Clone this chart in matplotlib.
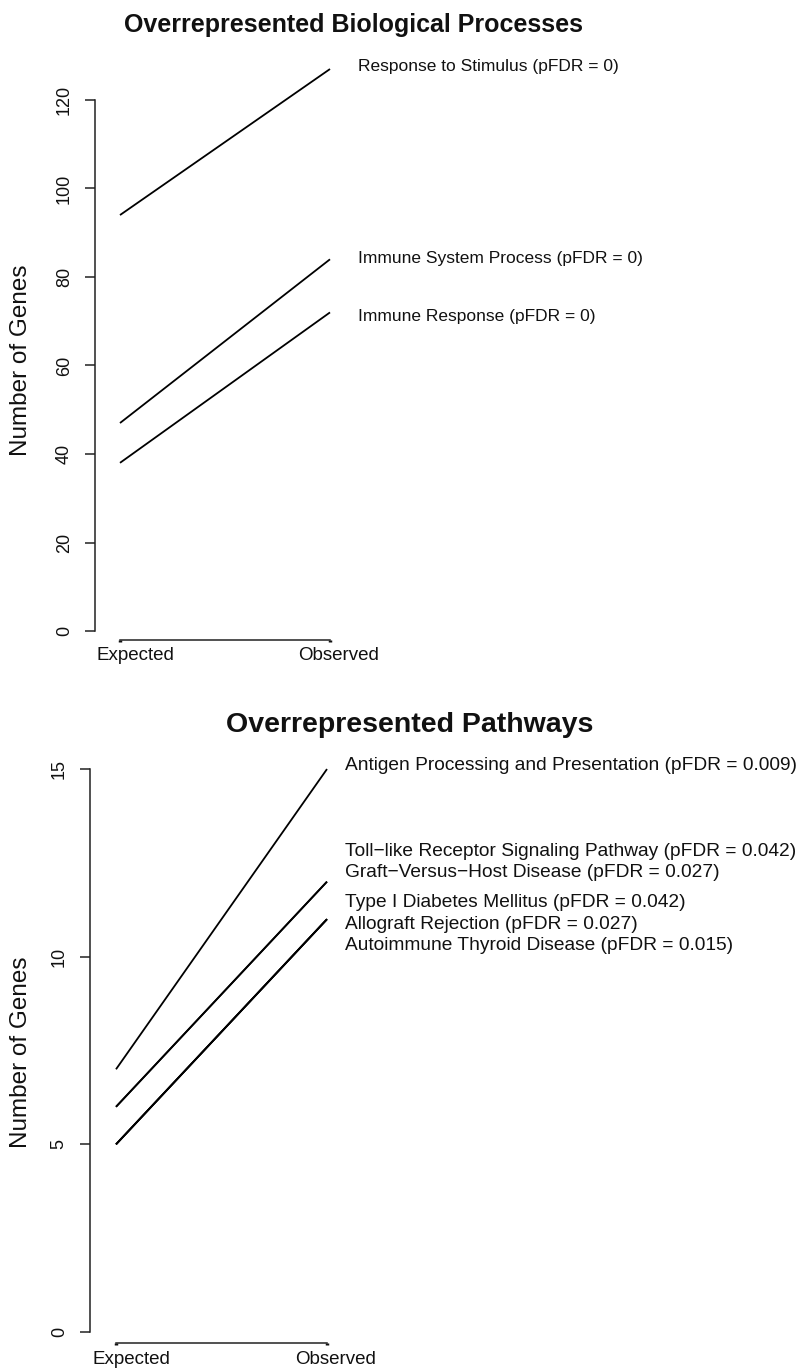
import matplotlib
matplotlib.use("Agg")
import matplotlib.pyplot as plt
from matplotlib.transforms import offset_copy

plt.rcParams['font.family'] = ['Liberation Sans', 'DejaVu Sans']

# overrepresented biological processes
bp_terms = ["Response to Stimulus", "Immune System Process", "Immune Response"]
bp_pfdr = ["0", "0", "0"]
bp_expected = [94, 47, 38]
bp_observed = [127, 84, 72]
bp_yticks = [0, 20, 40, 60, 80, 100, 120]

# overrepresented pathways
pw_terms = ["Antigen Processing and Presentation",
            "Toll\u2212like Receptor Signaling Pathway",
            "Graft\u2212Versus\u2212Host Disease",
            "Type I Diabetes Mellitus",
            "Allograft Rejection",
            "Autoimmune Thyroid Disease"]
pw_pfdr = ["0.009", "0.042", "0.027", "0.042", "0.027", "0.015"]
pw_expected = [7, 6, 6, 5, 5, 5]
pw_observed = [15, 12, 12, 11, 11, 11]
pw_yticks = [0, 5, 10, 15]

x_labels = ["Expected", "Observed"]

W, H = 802, 1368
fig = plt.figure(figsize=(W / 100, H / 100), dpi=100)


def px_axes(left, right, top, bottom):
    # axes placed by pixel edges (origin top-left)
    return fig.add_axes([left / W, 1 - bottom / H, (right - left) / W, (bottom - top) / H])


def draw_panel(ax, title, terms, pfdr, expected, observed, yticks,
               xlim, ylim, label_dx, label_dy, label_size, title_size, title_pad):
    for e, o in zip(expected, observed):
        ax.plot([1, 2], [e, o], color='black', lw=1.3, solid_capstyle='butt')

    # terms sharing the same end point get one stacked label
    groups = {}
    for t, p, o in zip(terms, pfdr, observed):
        groups.setdefault(o, []).append(f"{t} (pFDR = {p})")
    for (o, lines), dy in zip(groups.items(), label_dy):
        n = len(lines)
        for i, s in enumerate(lines):
            off = dy + (i - (n - 1) / 2) * 21.5
            tr = offset_copy(ax.transData, fig=fig, x=label_dx, y=-off, units='dots')
            ax.text(2, o, s, transform=tr, ha='left', va='center',
                    fontsize=label_size, color='#111111', clip_on=False)

    ax.set_xlim(xlim)
    ax.set_ylim(ylim)
    for s in ['top', 'right']:
        ax.spines[s].set_visible(False)
    for s in ['left', 'bottom']:
        ax.spines[s].set_linewidth(1.1)
        ax.spines[s].set_color('#222222')
    ax.spines['left'].set_bounds(yticks[0], yticks[-1])
    ax.spines['bottom'].set_bounds(1, 2)

    ax.set_yticks(yticks)
    ax.tick_params(axis='y', length=7, width=1.1, pad=9, labelsize=13,
                   labelrotation=90, color='#222222', labelcolor='#111111')
    for lab in ax.get_yticklabels():
        lab.set_va('center')

    ax.set_xticks([1, 2])
    ax.set_xticklabels([])
    ax.tick_params(axis='x', length=1.5, width=2.5, color='#111111')
    for x, lab, dx in zip([1, 2], x_labels, [15, 9]):
        tr = offset_copy(ax.get_xaxis_transform(), fig=fig, x=dx, y=-16, units='dots')
        ax.text(x, 0, lab, transform=tr, ha='center', va='center',
                fontsize=13.5, color='#111111', clip_on=False)

    ax.set_title(title, fontsize=title_size, fontweight='bold', pad=title_pad, color='#111111')


# top panel
ax1 = px_axes(95, 613, 50, 640)
draw_panel(ax1, "Overrepresented Biological Processes", bp_terms, bp_pfdr,
           bp_expected, bp_observed, bp_yticks,
           xlim=(1 - 25 / 210, 2 + 283 / 210),
           ylim=((631 - 640) / 4.425, (631 - 50) / 4.425),
           label_dx=28, label_dy=[-3, -1, 4], label_size=12.5,
           title_size=18, title_pad=13)
fig.text(21 / W, 1 - 360 / H, "Number of Genes", rotation=90, ha='center', va='center',
         fontsize=17.5, color='#111111')

# bottom panel
ax2 = px_axes(90, 730, 745, 1343)
draw_panel(ax2, "Overrepresented Pathways", pw_terms, pw_pfdr,
           pw_expected, pw_observed, pw_yticks,
           xlim=(1 - 26 / 211, 2 + 403 / 211),
           ylim=((1332 - 1343) / 37.53, (1332 - 745) / 37.53),
           label_dx=18, label_dy=[-4, -19.5, 5], label_size=13.8,
           title_size=20.5, title_pad=9.5)
fig.text(21 / W, 1 - 1052 / H, "Number of Genes", rotation=90, ha='center', va='center',
         fontsize=17.5, color='#111111')

fig.savefig("out.png", dpi=100)
